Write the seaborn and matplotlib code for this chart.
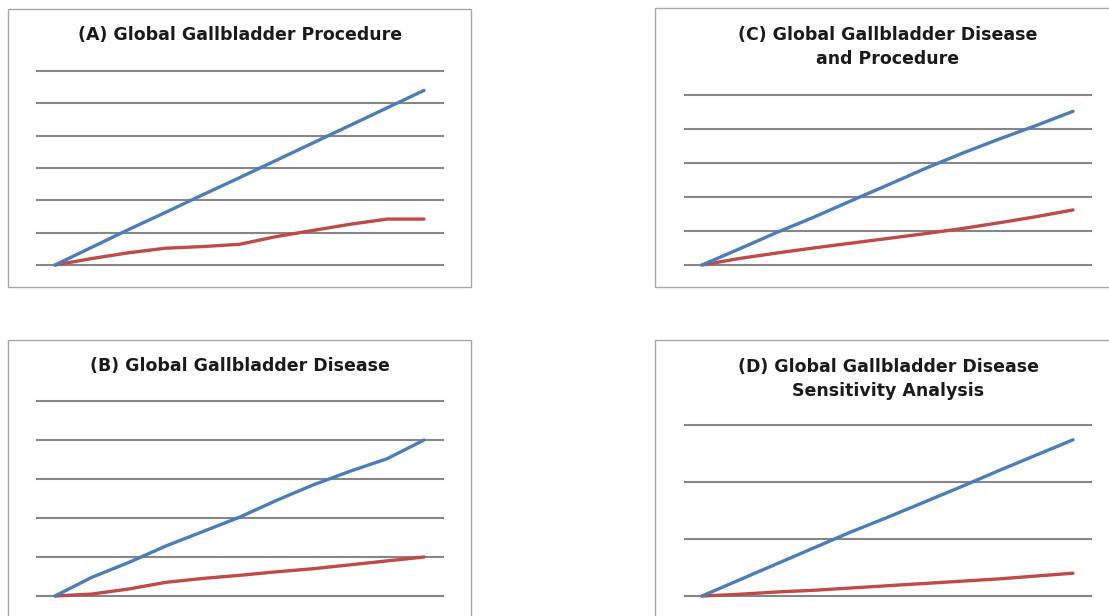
import pandas as pd
import matplotlib.pyplot as plt
import seaborn as sns
from matplotlib.patches import Rectangle

# data (x positions are just the 11 sample points)
periods = [0, 1, 2, 3, 4, 5, 6, 7, 8, 9, 10]

a_blue = [0, 0.55, 1.1, 1.63, 2.17, 2.7, 3.24, 3.78, 4.32, 4.86, 5.4]
a_red = [0, 0.2, 0.38, 0.52, 0.57, 0.64, 0.88, 1.07, 1.26, 1.42, 1.42]

b_blue = [0, 0.48, 0.86, 1.28, 1.65, 2.02, 2.45, 2.85, 3.2, 3.52, 4.0]
b_red = [0, 0.05, 0.18, 0.35, 0.45, 0.53, 0.62, 0.7, 0.8, 0.9, 1.0]

c_blue = [0, 0.47, 0.95, 1.4, 1.88, 2.35, 2.83, 3.28, 3.7, 4.1, 4.52]
c_red = [0, 0.19, 0.35, 0.5, 0.64, 0.78, 0.92, 1.07, 1.24, 1.42, 1.62]

d_blue = [0, 0.28, 0.56, 0.84, 1.12, 1.38, 1.65, 1.92, 2.2, 2.47, 2.74]
d_red = [0, 0.03, 0.07, 0.1, 0.14, 0.18, 0.22, 0.26, 0.3, 0.35, 0.4]

titles = {
    "A": ["(A) Global Gallbladder Procedure"],
    "B": ["(B) Global Gallbladder Disease"],
    "C": ["(C) Global Gallbladder Disease", "and Procedure"],
    "D": ["(D) Global Gallbladder Disease", "Sensitivity Analysis"],
}

BLUE = "#4a7ebb"
RED = "#be4b48"
GRID = "#868686"

sns.set_style("white")
plt.rcParams["font.family"] = ["DejaVu Sans"]

W, H = 1109, 616
fig = plt.figure(figsize=(W / 100, H / 100), dpi=100)


def fx(px):
    return px / W


def fy(py):
    return 1 - py / H


def panel(box, grid_x, line_x, g0, gtop, ymax, key, title_y, blue, red):
    bx0, by0, bx1, by1 = box
    fig.patches.append(Rectangle((fx(bx0), fy(by1)), (bx1 - bx0) / W, (by1 - by0) / H,
                                 transform=fig.transFigure, fill=False,
                                 edgecolor="#a8a8a8", lw=1.0))
    gx0, gx1 = grid_x
    lx0, lx1 = line_x
    ystep = (g0 - gtop) / ymax
    xstep = (lx1 - lx0) / (len(periods) - 1)
    pad = 6
    ax = fig.add_axes([fx(gx0), fy(g0 + pad), (gx1 - gx0) / W, (g0 - gtop + 2 * pad) / H])
    ax.set_xlim(-(lx0 - gx0) / xstep, periods[-1] + (gx1 - lx1) / xstep)
    ax.set_ylim(-pad / ystep, ymax + pad / ystep)
    for v in range(ymax + 1):
        ax.axhline(v, color=GRID, lw=1.5, zorder=1)
    df = pd.DataFrame({"period": periods, "blue": blue, "red": red})
    sns.lineplot(data=df, x="period", y="blue", color=BLUE, lw=2.4, ax=ax, zorder=3)
    sns.lineplot(data=df, x="period", y="red", color=RED, lw=2.4, ax=ax, zorder=2)
    ax.set_axis_off()
    cx = (gx0 + gx1) / 2
    for i, t in enumerate(titles[key]):
        fig.text(fx(cx), fy(title_y + 24 * i), t, ha="center", va="center",
                 fontsize=12.5, fontweight="bold", color="#1a1a1a")


panel((8, 9, 471, 287), (36, 444), (55, 424), 265, 71, 6, "A", 35, a_blue, a_red)
panel((8, 340, 471, 630), (36, 444), (55, 424), 596, 401, 5, "B", 366, b_blue, b_red)
panel((655, 8, 1120, 287), (684, 1092), (702, 1073), 265, 95, 5, "C", 35, c_blue, c_red)
panel((655, 340, 1120, 630), (684, 1092), (702, 1073), 596, 425, 3, "D", 367, d_blue, d_red)

fig.savefig("out.png", dpi=100)
